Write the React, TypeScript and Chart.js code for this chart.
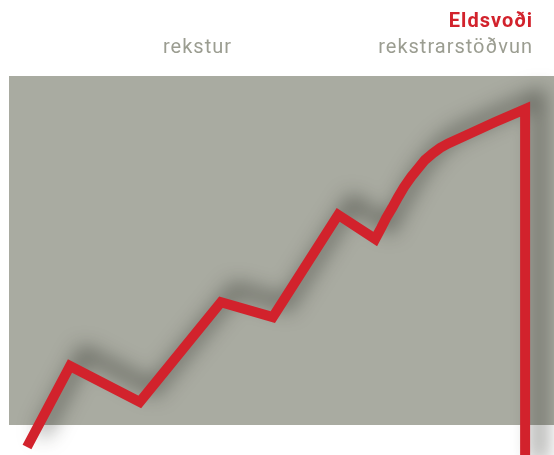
import React, { useEffect, useRef } from "react";
import { Chart, registerables } from "chart.js";

Chart.register(...registerables);

// Line path: x = time (0–100), y = risk level (0–100)
const pathX = [3.3, 11.2, 24.0, 38.9, 48.4, 60.4, 67.2, 68.3, 69.2, 70.3, 71.4, 72.5, 73.8, 75.1, 76.3, 77.8, 79.1, 80.6, 84.0, 89.2, 94.7, 94.7];
const pathY = [-6.3, 16.9, 6.6, 35.2, 30.9, 60.2, 53.3, 56.5, 59.3, 62.2, 65.3, 68.2, 71.1, 73.6, 75.9, 77.9, 79.4, 80.7, 83.1, 86.8, 90.5, -14.3];

const eventLabel = "Eldsvoði";
const phaseLabels = ["rekstur", "rekstrarstöðvun"];

const RED = "#d2222c";
const GRAY_BG = "#a9aba1";
const GRAY_TEXT = "#9b9d91";
const FONT = "Roboto, 'DejaVu Sans', sans-serif";

export default function App() {
  const ref = useRef<HTMLCanvasElement | null>(null);

  useEffect(() => {
    const canvas = ref.current;
    if (!canvas) return;

    const bgPlugin = {
      id: "bgRect",
      beforeDraw(chart: any) {
        const { ctx, chartArea } = chart;
        ctx.save();
        ctx.fillStyle = GRAY_BG;
        ctx.fillRect(chartArea.left, chartArea.top, chartArea.right - chartArea.left, chartArea.bottom - chartArea.top);
        ctx.restore();
      },
    };

    const shadowPlugin = {
      id: "lineShadow",
      beforeDatasetDraw(chart: any) {
        const ctx = chart.ctx;
        ctx.save();
        ctx.shadowColor = "rgba(40,42,35,0.65)";
        ctx.shadowBlur = 20;
        ctx.shadowOffsetX = 14;
        ctx.shadowOffsetY = -13;
      },
      afterDatasetDraw(chart: any) {
        chart.ctx.restore();
      },
    };

    const textPlugin = {
      id: "labels",
      afterDraw(chart: any) {
        const ctx = chart.ctx;
        ctx.save();
        ctx.textBaseline = "alphabetic";
        try { (ctx as any).letterSpacing = "1px"; } catch (e) {}
        ctx.fillStyle = RED;
        ctx.font = `bold 20px ${FONT}`;
        ctx.textAlign = "right";
        ctx.fillText(eventLabel, 533, 27);
        ctx.fillStyle = GRAY_TEXT;
        ctx.font = `400 20px ${FONT}`;
        ctx.textAlign = "left";
        ctx.fillText(phaseLabels[0], 163, 53);
        ctx.textAlign = "right";
        ctx.fillText(phaseLabels[1], 533, 53);
        ctx.restore();
      },
    };

    const chart = new Chart(canvas, {
      type: "line",
      data: {
        datasets: [
          {
            data: pathX.map((x, i) => ({ x, y: pathY[i] })),
            borderColor: RED,
            borderWidth: 10,
            borderJoinStyle: "miter",
            borderCapStyle: "butt",
            pointRadius: 0,
            tension: 0,
            fill: false,
            clip: false as any,
          },
        ],
      },
      options: {
        animation: false,
        responsive: false,
        layout: { padding: { left: 9, top: 76, right: 0, bottom: 30 } },
        scales: {
          x: { type: "linear", min: 0, max: 100, display: false },
          y: { type: "linear", min: 0, max: 100, display: false },
        },
        plugins: { legend: { display: false }, tooltip: { enabled: false }, title: { display: false } },
      },
      plugins: [bgPlugin, shadowPlugin, textPlugin],
    });

    return () => chart.destroy();
  }, []);

  return (
    <div style={{ position: "fixed", left: 0, top: 0, width: 554, height: 455, background: "#fff" }}>
      <canvas ref={ref} width={554} height={455} />
    </div>
  );
}
